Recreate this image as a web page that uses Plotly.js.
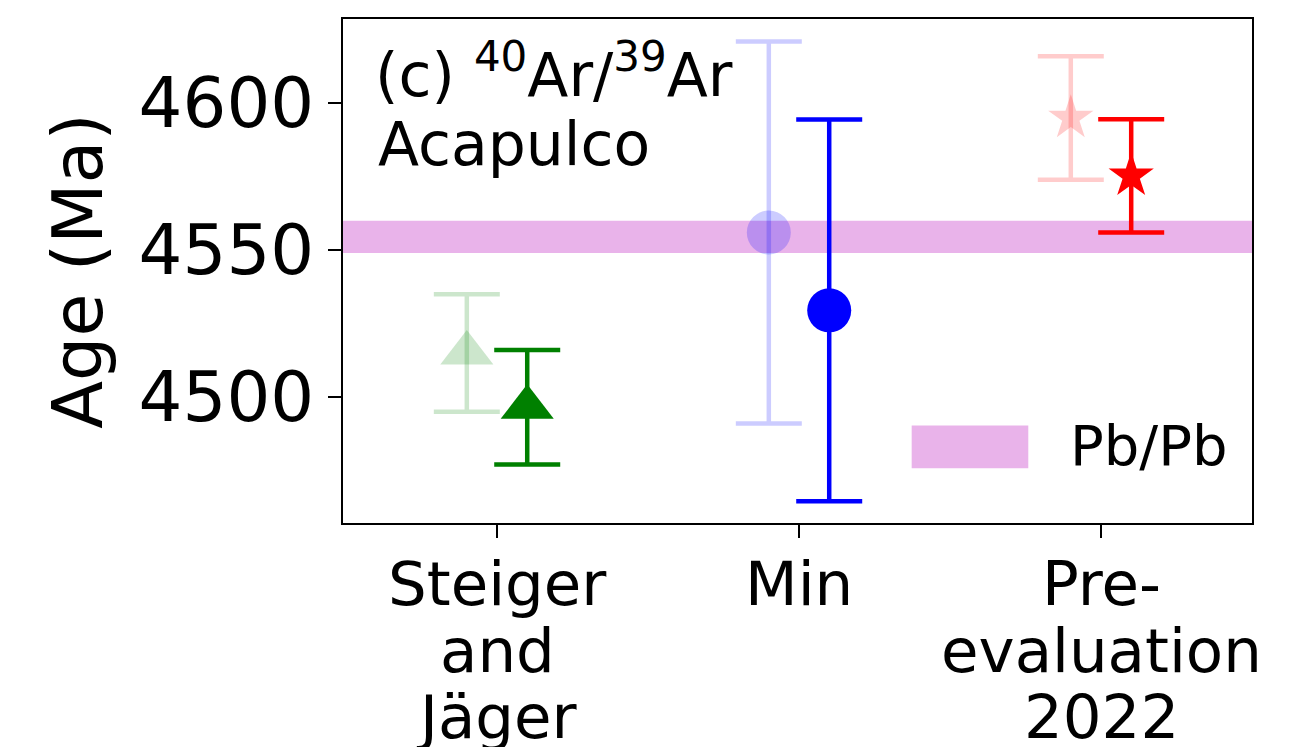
<!DOCTYPE html>
<html>
<head>
<meta charset="utf-8">
<script src="https://cdn.plot.ly/plotly-3.0.1.min.js"></script>
<style>html,body{margin:0;padding:0;background:#fff;}#chart{width:1307px;height:747px;}</style>
</head>
<body>
<div id="chart"></div>
<script>
// ---- data ----
const categories = ['Steiger and Jäger', 'Min', 'Pre-evaluation 2022'];
const tickLines = [['Steiger', 'and', 'Jäger'], ['Min'], ['Pre-', 'evaluation', '2022']];
const ageOriginal = [4515, 4556, 4595];     // faded points
const errOriginal = [20, 65, 21];
const ageRevised = [4496.5, 4529.5, 4575.3]; // solid points
const errRevised = [19.5, 65, 19.3];
const pbpbAge = [4549, 4560];               // Pb/Pb band (low, high)
const yTicks = [4500, 4550, 4600];

// ---- styles ----
const solidColors = ['#008000', '#0000ff', '#ff0000'];
const fadedColors = ['rgba(0,128,0,0.2)', 'rgba(0,0,255,0.2)', 'rgba(255,0,0,0.2)'];
const symbols = ['triangle-up', 'circle', 'star'];
const markerSizes = [46, 44, 34];
const shift = 0.1;
const bandColor = '#e9b3ea';
const FONT = 'DejaVu Sans, Liberation Sans, sans-serif';

const traces = [];
categories.forEach((c, i) => {
  traces.push({
    type: 'scatter', mode: 'markers', name: c + ' (faded)', showlegend: false,
    x: [i - shift], y: [ageOriginal[i]],
    marker: {symbol: symbols[i], size: markerSizes[i], color: fadedColors[i], line: {width: 0}},
    error_y: {type: 'data', array: [errOriginal[i]], visible: true, color: fadedColors[i], thickness: 4.5, width: 33},
    cliponaxis: false
  });
});
categories.forEach((c, i) => {
  traces.push({
    type: 'scatter', mode: 'markers', name: c, showlegend: false,
    x: [i + shift], y: [ageRevised[i]],
    marker: {symbol: symbols[i], size: markerSizes[i], color: solidColors[i], line: {width: 0}},
    error_y: {type: 'data', array: [errRevised[i]], visible: true, color: solidColors[i], thickness: 4.5, width: 33},
    cliponaxis: false
  });
});

const annotations = [];
tickLines.forEach((lines, i) => {
  lines.forEach((t, k) => {
    annotations.push({
      xref: 'x', yref: 'paper', x: i, y: 0, xanchor: 'center', yanchor: 'middle',
      yshift: -60.5 - 66.5 * k, text: t, showarrow: false,
      font: {family: FONT, size: 61, color: '#000'}
    });
  });
});
annotations.push({
  xref: 'paper', yref: 'paper', x: 0, y: 1, xanchor: 'left', yanchor: 'middle',
  xshift: 30, yshift: -52, showarrow: false,
  text: '(c) <sup>40</sup>Ar/<sup>39</sup>Ar', font: {family: FONT, size: 60, color: '#000'}
});
annotations.push({
  xref: 'paper', yref: 'paper', x: 0, y: 1, xanchor: 'left', yanchor: 'middle',
  xshift: 33, yshift: -125, showarrow: false,
  text: 'Acapulco', font: {family: FONT, size: 60, color: '#000'}
});
// legend label
annotations.push({
  xref: 'paper', yref: 'paper', x: 0.798, y: 0.154, xanchor: 'left', yanchor: 'middle',
  showarrow: false, text: 'Pb/Pb', font: {family: FONT, size: 56, color: '#000'}
});

const shapes = [
  {type: 'rect', xref: 'x domain', yref: 'y', x0: 0, x1: 1, y0: pbpbAge[0], y1: pbpbAge[1],
   fillcolor: bandColor, line: {width: 0}, layer: 'below'},
  // legend patch
  {type: 'rect', xref: 'paper', yref: 'paper', x0: 0.6256, x1: 0.7539, y0: 0.1088, y1: 0.1936,
   fillcolor: bandColor, line: {width: 0}}
];

const layout = {
  width: 1307, height: 747,
  margin: {l: 343, r: 55, t: 19, b: 224, pad: 0},
  paper_bgcolor: '#fff', plot_bgcolor: '#fff',
  showlegend: false,
  font: {family: FONT, color: '#000'},
  xaxis: {
    range: [-0.51, 2.5], tickvals: [0, 1, 2], showticklabels: false,
    ticks: 'outside', ticklen: 13, tickwidth: 2, tickcolor: '#000',
    showline: true, mirror: true, linecolor: '#000', linewidth: 2,
    showgrid: false, zeroline: false
  },
  yaxis: {
    range: [4457.1, 4628.7], tickvals: yTicks, ticktext: yTicks.map(String),
    ticks: 'outside', ticklen: 13, tickwidth: 2, tickcolor: '#000',
    tickfont: {family: FONT, size: 69, color: '#000'},
    showline: true, mirror: true, linecolor: '#000', linewidth: 2,
    showgrid: false, zeroline: false,
    title: {text: 'Age (Ma)', font: {family: FONT, size: 70, color: '#000'}, standoff: 13}
  },
  shapes: shapes,
  annotations: annotations
};

Plotly.newPlot('chart', traces, layout, {displayModeBar: false, staticPlot: true});
</script>
</body>
</html>
